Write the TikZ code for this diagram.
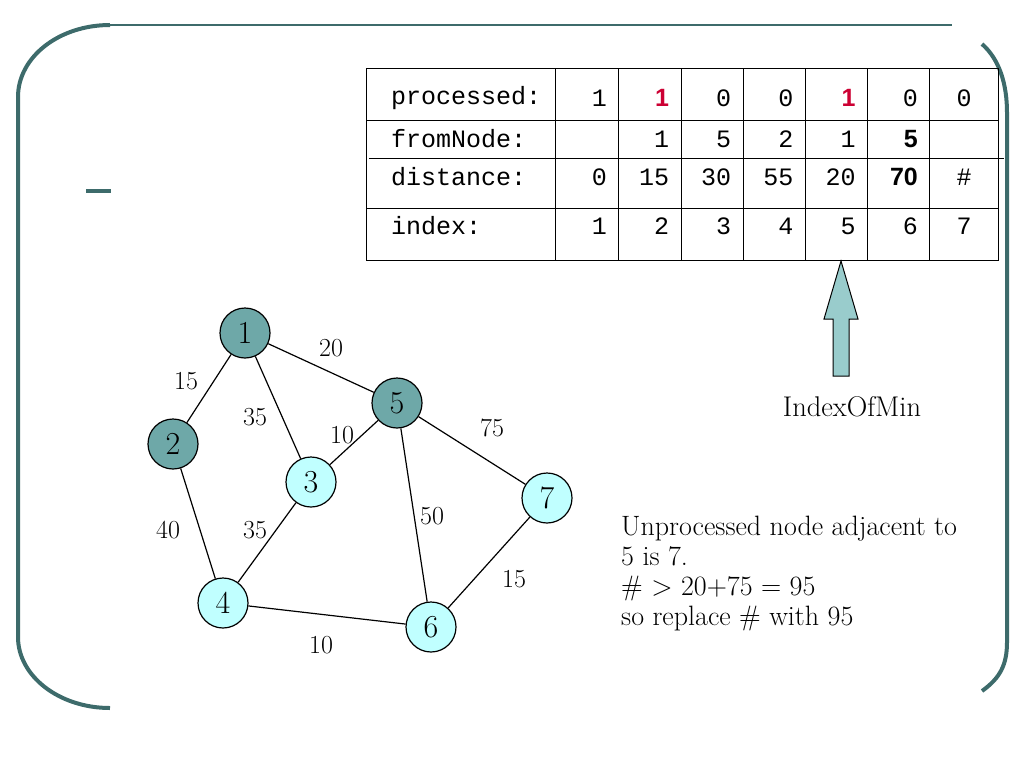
\documentclass[tikz,border=0pt]{standalone}
\usepackage{fontspec}
\setmonofont{Liberation Mono}
\newfontfamily\sansbf{Liberation Sans}
\usepackage{tikz}
\usetikzlibrary{positioning}
\definecolor{frameteal}{RGB}{61,107,107}
\definecolor{nodedark}{RGB}{110,168,168}
\definecolor{nodelight}{RGB}{192,255,255}
\definecolor{arrowfill}{RGB}{153,204,204}
\definecolor{hotred}{RGB}{204,0,51}
\newcommand{\hot}[1]{{\sansbf\bfseries\color{hotred}#1}}
\newcommand{\bsf}[1]{{\sansbf\bfseries #1}}
\tikzstyle{frameline}=[draw=frameteal, line width=4pt]
\tikzstyle{gnode}=[circle, draw=black, line width=1.2pt, minimum size=50pt, inner sep=0pt,
    font=\fontsize{32}{34}\selectfont]
\tikzstyle{done}=[gnode, fill=nodedark]
\tikzstyle{todo}=[gnode, fill=nodelight]
\tikzstyle{wlabel}=[inner sep=0pt, font=\fontsize{26}{28}\selectfont]
\tikzstyle{cell}=[inner sep=0pt, font=\ttfamily\fontsize{25}{27}\selectfont]
\tikzstyle{grid}=[draw=black, line width=1pt]

\begin{document}
\begin{tikzpicture}[x=1pt, y=-1pt]
          \useasboundingbox (0,0) rectangle (1024,768);
          % slide frame
          \draw[frameline] (110,25) .. controls (59,25) and (18,57) .. (18,97)
              -- (18,637) .. controls (18,676) and (59,708) .. (110,708);
          \draw[draw=frameteal, line width=2pt] (110,25) -- (952,25);
          \draw[frameline] (982,44) .. controls (1000,60) and (1007,85) .. (1007,113)
              -- (1007,642) .. controls (1007,665) and (1000,678) .. (982,691);
          \draw[frameline] (86,191) -- (111,191);
          % table
          \draw[grid] (366,68) rectangle (998,260);
          \draw[grid] (366,120) -- (998,120);
          \draw[grid] (369,158) -- (1004,158);
          \draw[grid] (366,208) -- (998,208);
          \foreach \x in {555,618,681,743,805,867,929}
            \draw[grid] (\x,68) -- (\x,260);
          \node[cell, anchor=west] (lp) at (391,98) {processed:};
          \node[cell, anchor=west] (lf) at (391,139) {fromNode:};
          \node[cell, anchor=west] (ld) at (391,177) {distance:};
          \node[cell, anchor=west] (li) at (391,226) {index:};
          \foreach \v [count=\i] in {1,\hot{1},0,0,\hot{1},0}
            \node[cell, anchor=east] (p\i) at (607+62.2*\i-62.2,98) {\v};
          \foreach \v [count=\i] in {{},1,5,2,1,\bsf{5}}
            \node[cell, anchor=east] (f\i) at (607+62.2*\i-62.2,139) {\v};
          \foreach \v [count=\i] in {0,15,30,55,20,\bsf{70}}
            \node[cell, anchor=east] (d\i) at (607+62.2*\i-62.2,177) {\v};
          \foreach \v [count=\i] in {1,2,3,4,5,6}
            \node[cell, anchor=east] (x\i) at (607+62.2*\i-62.2,226) {\v};
          \node[cell] (p7) at (964,98) {0};
          \node[cell] (d7) at (964,177) {\#};
          \node[cell] (x7) at (964,226) {7};
          % IndexOfMin arrow
          \draw[black, line width=1pt, fill=arrowfill] (841,261) -- (858,319) -- (849,319)
              -- (849,376) -- (833,376) -- (833,319) -- (824,319) -- cycle;
          \node[font=\fontsize{28.5}{30}\selectfont] (imin) at (852,407) {IndexOfMin};
          % graph
          \node[done] (v1) at (245,333) {1};
          \node[done] (v2) at (173,444) {2};
          \node[todo] (v3) at (311,482) {3};
          \node[todo] (v4) at (223,603) {4};
          \node[done] (v5) at (397,403) {5};
          \node[todo] (v6) at (431,627) {6};
          \node[todo] (v7) at (547,498) {7};
          \draw[line width=1.2pt](v1) -- (v2);
          \draw[line width=1.2pt](v1) -- (v3);
          \draw[line width=1.2pt](v1) -- (v5);
          \draw[line width=1.2pt](v2) -- (v4);
          \draw[line width=1.2pt](v3) -- (v4);
          \draw[line width=1.2pt](v3) -- (v5);
          \draw[line width=1.2pt](v5) -- (v6);
          \draw[line width=1.2pt](v5) -- (v7);
          \draw[line width=1.2pt](v4) -- (v6);
          \draw[line width=1.2pt](v6) -- (v7);
          \node[wlabel] (w15) at (186,381) {15};
          \node[wlabel] (w20) at (331,348) {20};
          \node[wlabel] (w35a) at (255,417) {35};
          \node[wlabel] (w10a) at (342,435) {10};
          \node[wlabel] (w75) at (492,428) {75};
          \node[wlabel] (w40) at (168,530) {40};
          \node[wlabel] (w35b) at (255,530) {35};
          \node[wlabel] (w50) at (432,516) {50};
          \node[wlabel] (w15b) at (514,579) {15};
          \node[wlabel] (w10b) at (321,645) {10};
          % explanation
          \node[anchor=north west, align=left, inner sep=0pt,
              font=\fontsize{28}{30}\selectfont] (note) at (621,516)
              {Unprocessed node adjacent to\\5 is 7.\\\# > 20+75 = 95\\so replace \# with 95};
        \end{tikzpicture}
\end{document}
